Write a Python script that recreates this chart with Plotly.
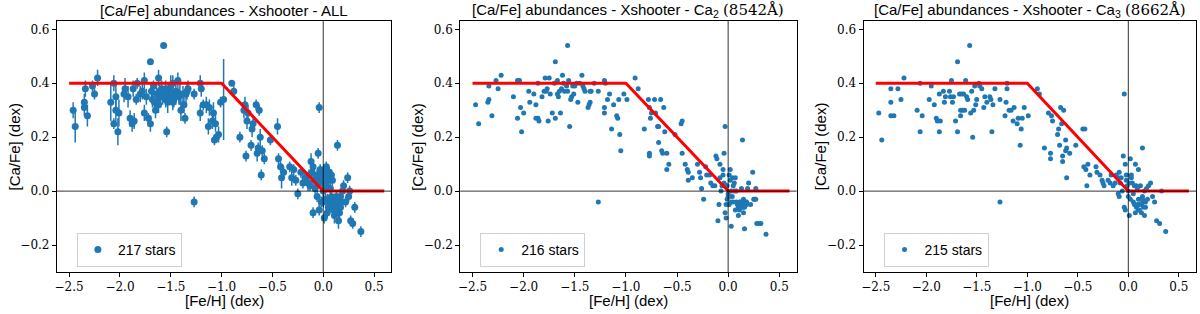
import plotly.graph_objects as go

# ---------------- data ----------------
model_fe = [-2.5, -1.0, 0.0, 0.6]
model_ca = [0.4, 0.4, 0.0, 0.0]

# Panel 1 : ALL (with errors)
fe1_a = [-2.46, -2.44, -2.35, -2.35, -2.34, -2.32, -2.27, -2.25, -2.22]
ca1_a = [0.30, 0.24, 0.31, 0.33, 0.38, 0.28, 0.39, 0.36, 0.42]
er1_a = [0.03, 0.06, 0.03, 0.03, 0.03, 0.04, 0.02, 0.02, 0.03]

fe1_b = [-2.09, -2.06, -2.06, -2.04, -2.04, -2.02, -2.01, -1.96, -1.95, -1.92,
         -1.90, -1.88, -1.87, -1.86, -1.84, -1.83, -1.80, -1.78, -1.76, -1.76,
         -1.74, -1.72, -1.70, -1.70, -1.69, -1.67, -1.66, -1.65, -1.64, -1.63,
         -1.62, -1.61, -1.60, -1.59, -1.57, -1.56, -1.55, -1.54, -1.53, -1.52,
         -1.51, -1.50, -1.48, -1.47, -1.45, -1.43, -1.41, -1.40, -1.37, -1.36,
         -1.35, -1.33, -1.27, -1.27, -1.21, -1.21, -1.20, -1.18, -1.15, -1.13,
         -1.12, -1.09, -1.08, -1.07, -1.06, -1.05, -1.03, -1.01, -0.98]
ca1_b = [0.33, 0.40, 0.25, 0.35, 0.30, 0.22, 0.29, 0.36, 0.38, 0.35,
         0.27, 0.25, 0.38, 0.26, 0.34, 0.40, 0.36, 0.37, 0.41, 0.29,
         0.35, 0.27, 0.48, 0.25, 0.37, 0.39, 0.33, 0.30, 0.36, 0.33,
         0.42, 0.37, 0.35, 0.38, 0.54, 0.36, 0.34, 0.22, 0.33, 0.37,
         0.35, 0.39, 0.40, 0.34, 0.37, 0.41, 0.36, 0.30, 0.32, 0.27,
         0.36, 0.38, 0.36, -0.04, 0.40, 0.29, 0.38, 0.32, 0.32, 0.24,
         0.31, 0.26, 0.29, 0.19, 0.25, 0.20, 0.21, 0.33, 0.34]
er1_b = [0.07, 0.03, 0.02, 0.05, 0.04, 0.05, 0.05, 0.03, 0.04, 0.04,
         0.03, 0.03, 0.03, 0.03, 0.02, 0.02, 0.03, 0.03, 0.03, 0.03,
         0.03, 0.02, 0.01, 0.03, 0.03, 0.02, 0.04, 0.03, 0.04, 0.03,
         0.03, 0.03, 0.04, 0.03, 0.01, 0.03, 0.03, 0.02, 0.04, 0.03,
         0.03, 0.04, 0.03, 0.03, 0.03, 0.03, 0.04, 0.04, 0.03, 0.02,
         0.03, 0.03, 0.02, 0.02, 0.03, 0.03, 0.03, 0.02, 0.03, 0.03,
         0.03, 0.03, 0.04, 0.02, 0.03, 0.02, 0.03, 0.02, 0.15]

fe1_c = [-0.90, -0.88, -0.82, -0.78, -0.77, -0.76, -0.75, -0.74, -0.71, -0.70,
         -0.69, -0.66, -0.65, -0.64, -0.63, -0.62, -0.61, -0.60, -0.58, -0.52,
         -0.45, -0.44, -0.42, -0.41, -0.39, -0.33, -0.31, -0.29, -0.27, -0.25,
         -0.22, -0.20, -0.18, -0.15, -0.13, -0.12, -0.11, -0.10, -0.09, -0.08,
         -0.07, -0.06, -0.05, -0.04, -0.04, -0.03, -0.02, -0.01, 0.00, 0.01,
         0.02, 0.03, 0.04, 0.05, 0.06, 0.07, 0.08, 0.09, 0.10, 0.11,
         0.12, 0.13, 0.14, 0.14, 0.15, 0.16, 0.17, 0.19, 0.20, 0.22,
         0.24, 0.25, 0.26, 0.27, 0.29, 0.31, 0.37]
ca1_c = [0.40, 0.37, 0.20, 0.30, 0.32, 0.13, 0.26, 0.29, 0.17, 0.23,
         0.25, 0.32, 0.14, 0.16, 0.30, 0.20, 0.06, 0.15, 0.12, 0.19,
         0.24, 0.12, 0.09, 0.05, 0.07, 0.09, 0.05, 0.08, 0.04, -0.01,
         0.07, 0.03, 0.05, 0.03, 0.02, 0.11, 0.07, -0.08, 0.04, 0.01,
         0.05, -0.02, 0.14, 0.31, -0.07, 0.05, -0.04, 0.03, 0.00, -0.10,
         0.07, 0.02, -0.03, -0.06, 0.07, 0.01, -0.02, -0.04, -0.05, -0.09,
         -0.03, -0.06, 0.17, -0.04, -0.11, -0.05, -0.02, 0.00, 0.02, -0.04,
         0.05, -0.02, 0.00, -0.11, -0.12, -0.06, -0.15]
er1_c = [0.01, 0.02, 0.02, 0.03, 0.03, 0.02, 0.03, 0.03, 0.02, 0.03,
         0.03, 0.02, 0.03, 0.02, 0.02, 0.03, 0.02, 0.02, 0.02, 0.02,
         0.03, 0.02, 0.02, 0.04, 0.02, 0.02, 0.03, 0.02, 0.02, 0.02,
         0.02, 0.02, 0.02, 0.03, 0.02, 0.03, 0.02, 0.02, 0.02, 0.02,
         0.02, 0.02, 0.02, 0.02, 0.02, 0.02, 0.02, 0.02, 0.02, 0.02,
         0.02, 0.02, 0.02, 0.02, 0.02, 0.02, 0.02, 0.02, 0.02, 0.03,
         0.02, 0.03, 0.02, 0.02, 0.03, 0.02, 0.02, 0.02, 0.02, 0.02,
         0.02, 0.02, 0.02, 0.02, 0.02, 0.02, 0.02]

fe1_d = [0.02, 0.05, 0.08, 0.10, 0.12, 0.13, 0.15, 0.16, 0.18, 0.00,
         -0.03, 0.04, 0.11, 0.06, -0.06, -0.10, -0.14, 0.03, -1.68, -1.62,
         -1.58, -1.55, -1.50, -1.48, -1.45, -1.42, -1.38, -1.34, -0.05, 0.00,
         0.02, 0.07, 0.09, 0.12, 0.14, 0.17, -0.02, 0.04]
ca1_d = [-0.03, 0.04, 0.06, -0.07, -0.08, -0.02, -0.06, -0.08, -0.04, 0.05,
         0.08, -0.08, -0.05, -0.04, 0.06, 0.09, 0.06, 0.09, 0.34, 0.32,
         0.35, 0.38, 0.36, 0.33, 0.35, 0.35, 0.36, 0.37, 0.03, -0.04,
         0.01, -0.05, 0.04, -0.04, -0.07, -0.06, 0.06, 0.06]
er1_d = [0.02, 0.02, 0.02, 0.02, 0.02, 0.02, 0.02, 0.02, 0.02, 0.02,
         0.02, 0.02, 0.02, 0.02, 0.02, 0.02, 0.02, 0.02, 0.03, 0.03,
         0.03, 0.03, 0.03, 0.03, 0.03, 0.03, 0.03, 0.03, 0.02, 0.02,
         0.02, 0.02, 0.02, 0.02, 0.02, 0.02, 0.02, 0.02]

fe1 = fe1_a + fe1_b + fe1_c + fe1_d
ca1 = ca1_a + ca1_b + ca1_c + ca1_d
er1 = er1_a + er1_b + er1_c + er1_d

# Panel 2 : Ca2 (8542 A)
fe2_a = [-2.47, -2.44, -2.35, -2.34, -2.34, -2.31, -2.27, -2.25, -2.22, -2.10,
         -2.06, -2.05, -2.04, -2.06, -2.03, -2.02, -2.00, -1.95, -1.94, -1.90,
         -1.88, -1.88, -1.86, -1.85, -1.86, -1.82, -1.80, -1.79, -1.78, -1.77,
         -1.76, -1.75, -1.74, -1.72, -1.70, -1.69, -1.69, -1.67, -1.67, -1.66,
         -1.65, -1.64, -1.63, -1.62, -1.61, -1.60, -1.58, -1.57, -1.57, -1.56,
         -1.55, -1.54, -1.53, -1.52, -1.51, -1.50, -1.48, -1.47, -1.45, -1.43,
         -1.42, -1.41, -1.40, -1.37, -1.36, -1.35, -1.35, -1.34, -1.31, -1.27,
         -1.27, -1.21, -1.21, -1.21, -1.20, -1.18, -1.16, -1.14, -1.12, -1.09,
         -1.08, -1.07, -1.06, -1.05, -1.02, -0.99]
ca2_a = [0.32, 0.25, 0.33, 0.34, 0.39, 0.28, 0.41, 0.38, 0.43, 0.35,
         0.41, 0.41, 0.41, 0.27, 0.31, 0.22, 0.29, 0.37, 0.33, 0.36,
         0.32, 0.27, 0.27, 0.26, 0.40, 0.35, 0.37, 0.42, 0.37, 0.38,
         0.26, 0.42, 0.36, 0.29, 0.40, 0.48, 0.27, 0.36, 0.41, 0.35,
         0.37, 0.29, 0.38, 0.43, 0.40, 0.37, 0.39, 0.54, 0.37, 0.41,
         0.24, 0.34, 0.35, 0.39, 0.36, 0.39, 0.40, 0.33, 0.40, 0.43,
         0.39, 0.38, 0.37, 0.31, 0.32, 0.33, 0.37, 0.37, 0.40, 0.37,
         -0.04, 0.41, 0.29, 0.31, 0.40, 0.34, 0.36, 0.23, 0.32, 0.28,
         0.27, 0.34, 0.21, 0.15, 0.36, 0.34]
fe2_b = [-0.91, -0.88, -0.82, -0.78, -0.77, -0.76, -0.75, -0.72, -0.71, -0.69,
         -0.68, -0.68, -0.66, -0.63, -0.62, -0.60, -0.60, -0.58, -0.65, -0.64,
         -0.77, -0.77, -0.52, -0.46, -0.45, -0.45, -0.42, -0.40, -0.39, -0.39,
         -0.35, -0.30, -0.28, -0.27, -0.26, -0.24, -0.22, -0.21, -0.18, -0.17,
         -0.15, -0.13, -0.12, -0.11, -0.10, -0.09, -0.08, -0.07, -0.05, -0.04,
         -0.03, -0.03, -0.02, -0.04, -0.06, -0.02, -0.01, 0.00, 0.00, 0.01,
         0.01, 0.02, 0.03, 0.03, 0.04, 0.05, 0.06, 0.06, 0.07, 0.08,
         0.09, 0.10, 0.10, 0.11, 0.12, 0.13, 0.13, 0.14, 0.14, 0.15,
         0.15, 0.16, 0.17, 0.18, 0.19, 0.20, 0.22, 0.24, 0.25, 0.26,
         0.27, 0.27, 0.28, 0.30, 0.32, 0.37]
ca2_b = [0.42, 0.38, 0.23, 0.34, 0.31, 0.27, 0.29, 0.34, 0.29, 0.24,
         0.24, 0.18, 0.34, 0.31, 0.22, 0.14, 0.08, 0.10, 0.15, 0.14,
         0.13, 0.14, 0.21, 0.25, 0.26, 0.14, 0.10, 0.08, 0.07, 0.04,
         0.05, 0.10, 0.07, 0.05, 0.01, -0.03, 0.09, 0.06, 0.06, 0.03,
         0.02, 0.02, 0.13, 0.12, -0.11, -0.05, 0.10, 0.00, 0.08, 0.14,
         0.24, -0.08, -0.10, 0.03, 0.02, 0.02, -0.03, -0.01, -0.02, -0.05,
         0.06, 0.08, -0.13, -0.04, 0.05, -0.04, 0.03, 0.00, -0.07, 0.00,
         -0.05, -0.05, -0.09, -0.04, -0.06, -0.05, 0.01, 0.19, -0.06, -0.05,
         -0.08, -0.14, -0.05, -0.04, 0.01, 0.03, -0.05, 0.07, -0.03, -0.03,
         -0.03, 0.01, -0.12, -0.12, -0.12, -0.16]
fe2_c = [0.08, 0.10, 0.12, 0.14, 0.16, 0.18, 0.11, 0.13, 0.15, 0.17,
         -0.01, 0.01, 0.02, -0.02, 0.04, 0.07, -0.05, -0.08, 0.03, 0.05]
ca2_c = [-0.04, -0.06, -0.04, -0.04, -0.06, -0.05, -0.07, -0.06, -0.03, -0.04,
         0.02, -0.02, 0.04, -0.05, -0.02, 0.05, 0.06, 0.05, 0.00, 0.02]
fe2 = fe2_a + fe2_b + fe2_c
ca2 = ca2_a + ca2_b + ca2_c

# Panel 3 : Ca3 (8662 A)
fe3_a = [-2.47, -2.44, -2.35, -2.35, -2.35, -2.32, -2.28, -2.25, -2.22, -2.09,
         -2.06, -2.06, -2.04, -1.97, -1.95, -1.92, -1.90, -1.89, -1.87, -1.87,
         -1.86, -1.83, -1.82, -1.81, -1.77, -1.76, -1.75, -1.74, -1.73, -1.71,
         -1.69, -1.69, -1.67, -1.66, -1.66, -1.65, -1.64, -1.63, -1.62, -1.61,
         -1.60, -1.59, -1.57, -1.56, -1.55, -1.54, -1.53, -1.52, -1.51, -1.50,
         -1.48, -1.47, -1.45, -1.43, -1.42, -1.40, -1.37, -1.36, -1.35, -1.34,
         -1.32, -1.27, -1.27, -1.22, -1.21, -1.20, -1.20, -1.18, -1.16, -1.14,
         -1.13, -1.10, -1.09, -1.07, -1.06, -1.05, -1.03, -0.99]
ca3_a = [0.29, 0.19, 0.38, 0.33, 0.28, 0.28, 0.38, 0.34, 0.42, 0.30,
         0.40, 0.22, 0.28, 0.34, 0.39, 0.32, 0.27, 0.26, 0.36, 0.22,
         0.26, 0.37, 0.33, 0.35, 0.37, 0.35, 0.41, 0.33, 0.35, 0.26,
         0.48, 0.22, 0.36, 0.30, 0.28, 0.36, 0.30, 0.36, 0.30, 0.41,
         0.35, 0.34, 0.54, 0.29, 0.37, 0.20, 0.30, 0.39, 0.32, 0.34,
         0.40, 0.39, 0.38, 0.31, 0.35, 0.33, 0.35, 0.34, 0.22, 0.32,
         0.38, 0.34, -0.04, 0.28, 0.33, 0.40, 0.38, 0.30, 0.30, 0.26,
         0.31, 0.25, 0.27, 0.17, 0.23, 0.27, 0.31, 0.28]
fe3_b = [-0.90, -0.88, -0.83, -0.79, -0.77, -0.77, -0.76, -0.75, -0.70, -0.69,
         -0.68, -0.67, -0.66, -0.65, -0.65, -0.64, -0.62, -0.62, -0.61, -0.61,
         -0.58, -0.52, -0.45, -0.44, -0.43, -0.42, -0.41, -0.40, -0.38, -0.32,
         -0.31, -0.28, -0.26, -0.25, -0.24, -0.20, -0.18, -0.17, -0.15, -0.13,
         -0.10, -0.09, -0.10, -0.09, -0.08, -0.06, -0.05, -0.04, -0.04, -0.03,
         -0.03, -0.02, -0.01, 0.00, 0.00, 0.01, 0.02, 0.03, 0.04, 0.05,
         0.06, 0.07, 0.08, 0.09, 0.10, 0.10, 0.11, 0.12, 0.13, 0.14,
         0.14, 0.15, 0.16, 0.17, 0.18, 0.20, 0.22, 0.24, 0.26, 0.28,
         0.31, 0.33, 0.37]
ca3_b = [0.38, 0.36, 0.16, 0.29, 0.14, 0.12, 0.28, 0.26, 0.21, 0.23,
         0.17, 0.31, 0.25, 0.13, 0.11, 0.30, 0.19, 0.15, 0.05, 0.16,
         0.14, 0.17, 0.23, 0.09, 0.23, 0.08, 0.02, 0.10, 0.06, 0.09,
         0.07, 0.06, 0.04, 0.03, 0.02, 0.04, 0.03, 0.06, 0.02, 0.03,
         0.05, 0.07, -0.01, -0.02, 0.03, 0.00, 0.13, 0.36, -0.06, -0.07,
         0.10, 0.06, 0.02, 0.00, -0.02, -0.09, 0.12, 0.05, 0.03, -0.01,
         -0.05, 0.10, 0.02, -0.05, -0.03, 0.08, -0.07, -0.03, -0.05, 0.16,
         -0.02, -0.06, -0.09, -0.04, 0.01, 0.02, 0.03, -0.02, -0.04, -0.11,
         -0.12, 0.00, -0.15]
fe3_c = [0.05, 0.08, 0.11, 0.13, 0.15, 0.17, 0.12, 0.09, 0.02, -0.02,
         0.06, 0.14, 0.19, 0.16, -0.07, -0.12, 0.03, 0.10, 0.07, 0.01]
ca3_c = [-0.04, -0.06, -0.05, -0.08, -0.04, -0.06, 0.02, 0.01, -0.03, 0.04,
         0.02, -0.03, -0.03, 0.00, 0.05, 0.06, 0.06, -0.07, -0.08, 0.03]
fe3 = fe3_a + fe3_b + fe3_c
ca3 = ca3_a + ca3_b + ca3_c

assert len(fe1) == len(ca1) == len(er1)
assert len(fe2) == len(ca2)
assert len(fe3) == len(ca3)

legend_labels = ["217 stars", "216 stars", "215 stars"]
x_ticks = [-2.5, -2.0, -1.5, -1.0, -0.5, 0.0, 0.5]
y_ticks = [-0.2, 0.0, 0.2, 0.4, 0.6]

# ---------------- styling / layout ----------------
W, H = 1200, 314
BLUE = "#1f77b4"
SANS = "Liberation Sans"
SERIF = "DejaVu Serif"

frames = [(55, 390), (459, 796), (863, 1196)]
top_px, bot_px = 21, 272
ylab_px = [13, 416, 820]

def fmt(v):
    s = f"{abs(v):.1f}"
    return ("\u2212" + s) if v < 0 else s

titles = [
    "[Ca/Fe] abundances - Xshooter - ALL",
    "[Ca/Fe] abundances - Xshooter - Ca<sub>2</sub> <span style='font-family:DejaVu Serif'>(8542Å)</span>",
    "[Ca/Fe] abundances - Xshooter - Ca<sub>3</sub> <span style='font-family:DejaVu Serif'>(8662Å)</span>",
]

fig = go.Figure()
datasets = [(fe1, ca1, er1), (fe2, ca2, None), (fe3, ca3, None)]

annotations = []
shapes = []
for i, (fx, fy, fe) in enumerate(datasets):
    k = "" if i == 0 else str(i + 1)
    xa, ya = "x" + k, "y" + k
    lg = "legend" + k
    mk = dict(color=BLUE, size=7 if i == 0 else 5)
    tr = go.Scatter(x=fx, y=fy, mode="markers", marker=mk, name=legend_labels[i],
                    xaxis=xa, yaxis=ya, legend=lg, showlegend=True)
    if fe is not None:
        tr.error_y = dict(type="data", array=fe, color=BLUE, thickness=1.5, width=0)
    fig.add_trace(tr)
    fig.add_trace(go.Scatter(x=model_fe, y=model_ca, mode="lines",
                             line=dict(color="red", width=3),
                             xaxis=xa, yaxis=ya, showlegend=False, hoverinfo="skip"))
    l, r = frames[i]
    axcommon = dict(showline=True, mirror=True, linecolor="black", linewidth=1,
                    ticks="outside", ticklen=4, tickwidth=1, tickcolor="black",
                    showgrid=False, zeroline=False,
                    tickfont=dict(family=SERIF, size=12, color="black"))
    fig.layout["xaxis" + k] = dict(domain=[l / W, r / W], range=[-2.62, 0.67],
                                   anchor=ya, tickvals=x_ticks,
                                   ticktext=[fmt(v) for v in x_ticks], **axcommon)
    fig.layout["yaxis" + k] = dict(domain=[1 - bot_px / H, 1 - top_px / H],
                                   range=[-0.3, 0.631], anchor=xa, tickvals=y_ticks,
                                   ticktext=[fmt(v) for v in y_ticks], **axcommon)
    fig.layout[lg] = dict(x=(l + 20) / W, y=1 - 267 / H, xanchor="left", yanchor="bottom",
                          bgcolor="white", bordercolor="#d0d0d0", borderwidth=1,
                          font=dict(family=SANS, size=14, color="black"))
    # reference lines
    shapes.append(dict(type="line", xref=xa, yref=ya + " domain", x0=0, x1=0, y0=0, y1=1,
                       line=dict(color="rgba(0,0,0,0.8)", width=1), layer="above"))
    shapes.append(dict(type="line", xref=xa + " domain", yref=ya, x0=0, x1=1, y0=0, y1=0,
                       line=dict(color="rgba(0,0,0,0.8)", width=1), layer="above"))
    cx = (l + r) / 2 / W
    annotations.append(dict(text=titles[i], x=cx, y=1 - 11 / H, xref="paper", yref="paper",
                            showarrow=False, xanchor="center", yanchor="middle",
                            font=dict(family=SANS, size=15, color="black")))
    annotations.append(dict(text="[Fe/H] (dex)", x=cx, y=1 - 300 / H, xref="paper",
                            yref="paper", showarrow=False, xanchor="center",
                            yanchor="middle", font=dict(family=SANS, size=15, color="black")))
    annotations.append(dict(text="[Ca/Fe] (dex)", x=ylab_px[i] / W,
                            y=1 - (top_px + bot_px) / 2 / H, xref="paper", yref="paper",
                            showarrow=False, xanchor="center", yanchor="middle",
                            textangle=-90, font=dict(family=SANS, size=15, color="black")))

fig.update_layout(width=W, height=H, margin=dict(l=0, r=0, t=0, b=0),
                  plot_bgcolor="white", paper_bgcolor="white",
                  annotations=annotations, shapes=shapes)

fig.write_html("out.html", config={"displayModeBar": False},
               post_script="document.body.style.margin='0px';document.body.style.padding='0px';")
